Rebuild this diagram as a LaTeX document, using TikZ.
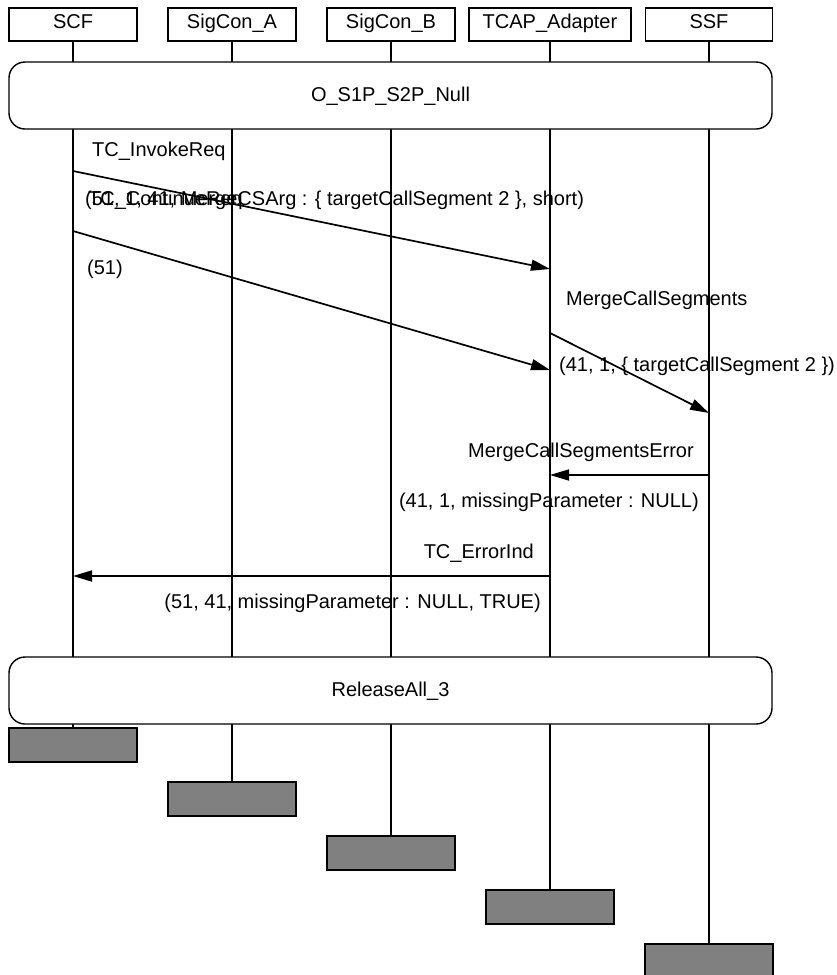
\documentclass[tikz,border=0pt]{standalone}
\usepackage{fontspec}
\setmainfont{Liberation Sans}
\usetikzlibrary{arrows.meta}
\begin{document}
\begin{tikzpicture}[x=1pt,y=-1pt,
	every node/.style={font=\fontsize{20}{24}\selectfont},
	inst/.style={draw,line width=1.4pt,minimum width=128pt,minimum height=33pt,inner sep=0pt,text height=14pt,text depth=7pt},
	cond/.style={draw,fill=white,line width=1.4pt,rounded corners=16pt,minimum width=763pt,minimum height=67pt,inner sep=0pt,text height=14pt,text depth=2pt},
	stopbox/.style={draw,fill=gray,line width=1.4pt,minimum width=128pt,minimum height=34pt,inner sep=0pt},
	msg/.style={line width=1.7pt,-{Triangle[length=19pt,width=11pt]}},
	lab/.style={inner sep=0pt}]
	\useasboundingbox (0,0) rectangle (837,975);
	\node [inst] (scf) at (73,24.5) {SCF};
	\node [inst] (siga) at (232,24.5) {SigCon\_A};
	\node [inst] (sigb) at (391,24.5) {SigCon\_B};
	\node [inst,minimum width=162pt] (tcap) at (550,24.5) {TCAP\_Adapter};
	\node [inst,minimum width=127pt] (ssf) at (709,24.5) {SSF};
	\node [stopbox] (scfend) at (73,745) {};
	\node [stopbox] (sigaend) at (232,799) {};
	\node [stopbox] (sigbend) at (391,853) {};
	\node [stopbox] (tcapend) at (550,907) {};
	\node [stopbox] (ssfend) at (709,961) {};
	\draw [line width=1.3pt] (scf) -- (scfend);
	\draw [line width=1.3pt] (siga) -- (sigaend);
	\draw [line width=1.3pt] (sigb) -- (sigbend);
	\draw [line width=1.3pt] (tcap) -- (tcapend);
	\draw [line width=1.3pt] (ssf) -- (ssfend);
	\node [cond] (null) at (390.5,95.5) {O\_S1P\_S2P\_Null};
	\node [cond] (relall) at (390.5,690.5) {ReleaseAll\_3};
	\draw [msg] (scf |- 0,171) -- (tcap |- 0,269);
	\node [lab,anchor=base west] (invlab) at (92,156) {TC\_InvokeReq};
	\node [lab,anchor=base west] (invpar) at (85,205) {(51, 1, 41, MergeCSArg : \{ targetCallSegment 2 \}, short)};
	\draw [msg] (scf |- 0,231) -- (tcap |- 0,370);
	\node [lab,anchor=base west] (conlab) at (88,205) {TC\_ContinueReq};
	\node [lab,anchor=base west] (conpar) at (87,274) {(51)};
	\draw [msg] (tcap |- 0,333) -- (ssf |- 0,413);
	\node [lab,anchor=base west] (mcslab) at (566,305) {MergeCallSegments};
	\node [lab,anchor=base west] (mcspar) at (559,371) {(41, 1, \{ targetCallSegment 2 \})};
	\draw [msg] (ssf |- 0,475) -- (tcap |- 0,475);
	\node [lab,anchor=base east] (errlab) at (694,457) {MergeCallSegmentsError};
	\node [lab,anchor=base east] (errpar) at (699,507) {(41, 1, missingParameter : NULL)};
	\draw [msg] (tcap |- 0,576) -- (scf |- 0,576);
	\node [lab,anchor=base east] (tcelab) at (534,558) {TC\_ErrorInd};
	\node [lab,anchor=base east] (tcepar) at (541,608) {(51, 41, missingParameter : NULL, TRUE)};
\end{tikzpicture}
\end{document}
